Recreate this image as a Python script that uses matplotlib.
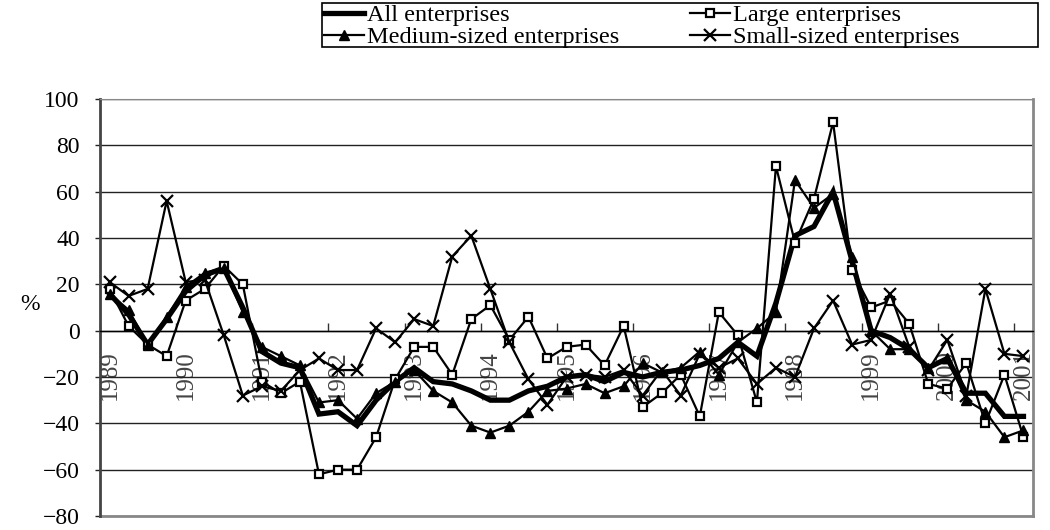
import matplotlib
matplotlib.use("Agg")
import matplotlib.pyplot as plt
from matplotlib.patches import Rectangle
import numpy as np

plt.rcParams['font.family'] = ['Liberation Serif', 'DejaVu Serif']
plt.rcParams['ytick.major.pad'] = 11
plt.rcParams['xtick.minor.pad'] = 14

year_labels = ['1989', '1990', '1991', '1992', '1993', '1994', '1995',
               '1996', '1997', '1998', '1999', '2000', '2001']

all_ent = [16, 7, -6, 5, 17, 24, 27, 10, -9, -14,
           -16, -36, -35, -41, -30, -22, -16, -22, -23, -26,
           -30, -30, -26, -24, -20, -19, -22, -18, -20, -18,
           -17, -15, -12, -5, -11, 12, 41, 45, 60, 30,
           0, -3, -8, -16, -12, -27, -27, -37, -37]
large = [18, 2, -6, -11, 13, 18, 28, 20, -22, -27,
         -22, -62, -60, -60, -46, -21, -7, -7, -19, 5,
         11, -4, 6, -12, -7, -6, -15, 2, -33, -27,
         -19, -37, 8, -2, -31, 71, 38, 57, 90, 26,
         10, 13, 3, -23, -25, -14, -40, -19, -46]
medium = [16, 9, -6, 6, 19, 25, 27, 8, -7, -11,
          -15, -31, -30, -38, -27, -22, -17, -26, -31, -41,
          -44, -41, -35, -26, -25, -23, -27, -24, -14, -18,
          -16, -9, -19, -5, 1, 8, 65, 53, 59, 32,
          0, -8, -8, -16, -12, -30, -35, -46, -43]
small = [21, 15, 18, 56, 21, 22, -2, -28, -24, -26,
         -17, -12, -17, -17, 1, -5, 5, 2, 32, 41,
         18, -5, -21, -32, -20, -19, -20, -17, -28, -17,
         -28, -10, -16, -12, -23, -16, -20, 1, 13, -6,
         -4, 16, -7, -17, -4, -28, 18, -10, -11]

series_names = ['All enterprises', 'Large enterprises',
                'Medium-sized enterprises', 'Small-sized enterprises']

n = len(all_ent)
x = np.arange(n)

fig = plt.figure(figsize=(10.5, 5.3), dpi=100)
ax = fig.add_axes([100/1050, 1 - 516/530, 933/1050, (516 - 99)/530])

l_all, = ax.plot(x, all_ent, color='black', lw=3.8, solid_joinstyle='miter', zorder=3)
l_large, = ax.plot(x, large, color='black', lw=1.6, marker='s', ms=5.5,
                   mfc='white', mec='black', mew=1.6, zorder=4)
l_med, = ax.plot(x, medium, color='black', lw=1.6, marker='^', ms=7,
                 mfc='black', mec='black', zorder=4)
l_small, = ax.plot(x, small, color='black', lw=1.6, marker='x', ms=8,
                   mew=1.6, zorder=4)

ax.set_xlim(-0.5, n - 0.5)
ax.set_ylim(-80, 100)
ax.set_yticks(np.arange(-80, 101, 20))
ax.yaxis.grid(True, color='#222222', lw=1.0)
ax.set_axisbelow(True)
ax.tick_params(axis='y', direction='out', length=3.6, width=1, labelsize=17,
               colors='#222222', labelcolor='black')

# category axis crossing at zero
ax.spines['bottom'].set_position(('data', 0))
ax.spines['bottom'].set_color('black')
ax.spines['bottom'].set_linewidth(1.0)
ax.set_xticks(np.arange(-0.5, n, 4))
ax.set_xticklabels([])
ax.set_xticks(np.arange(0, n, 4), minor=True)
ax.set_xticklabels(year_labels, minor=True, rotation=90, fontsize=18, color='#444444')
ax.tick_params(axis='x', which='major', direction='in', length=6, width=1, colors='#333333')
ax.tick_params(axis='x', which='minor', length=0)
for lbl in ax.get_xticklabels(minor=True):
    lbl.set_clip_on(True)

ax.spines['left'].set_color('#444444')
ax.spines['left'].set_linewidth(2)
ax.spines['top'].set_color('#888888')
ax.spines['right'].set_color('#888888')
ax.spines['right'].set_linewidth(2)
ax.axhline(-80, color='#888888', lw=2, clip_on=False)

fig.text(30/1050, 1 - 305/530, '%', fontsize=17, ha='center', va='center')

handles = [l_all, l_med, l_large, l_small]
labels = [series_names[0], series_names[2], series_names[1], series_names[3]]
leg = fig.legend(handles, labels, ncol=2,
                 loc='upper left', bbox_to_anchor=(323/1050, 1 - 3/530),
                 fontsize=17.5, frameon=False,
                 handlelength=1.65, handletextpad=0.12, columnspacing=2.9,
                 borderpad=0.05, labelspacing=0.0, borderaxespad=0)
fig.add_artist(Rectangle((322/1050, 1 - 47/530), 716/1050, 44/530,
                         transform=fig.transFigure, fill=False,
                         ec='black', lw=1.2))

fig.savefig('out.png', dpi=100)
